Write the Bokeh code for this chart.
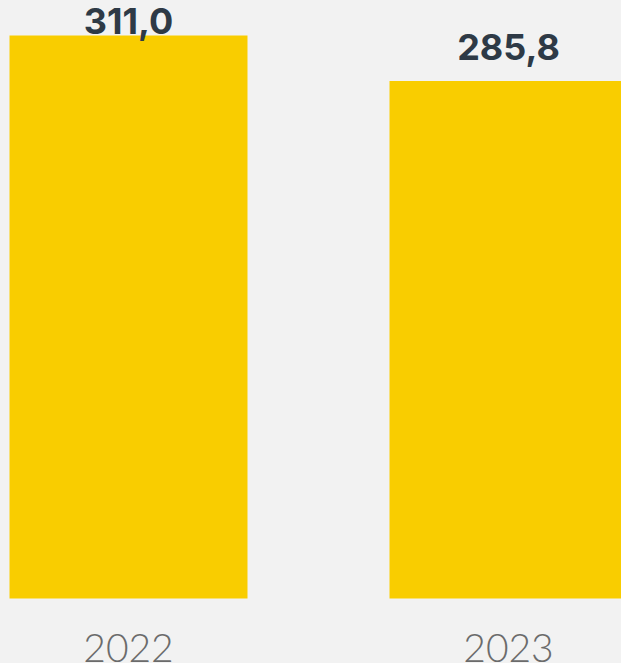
import numpy as np
from bokeh.plotting import figure
from bokeh.models import ColumnDataSource, Range1d, GlobalInlineStyleSheet
from bokeh.core.properties import value
from bokeh.embed import file_html
from bokeh.resources import INLINE

# ---- data ----
years = ["2022", "2023"]
values = [311.0, 285.8]
value_labels = ["311,0", "285,8"]

# ---- layout constants (pixels) ----
W, H = 621, 663
PX = 563 / 311.0          # pixels per unit on y
BASE_PX = 598             # pixel row of the zero line (from top)
XSTEP = 380               # pixels between bar centres
X0 = 128                  # pixel column of first bar centre
BAR_W = 238

y_start = -(H - BASE_PX) / PX
y_end = BASE_PX / PX
x_start = -X0 / XSTEP
x_end = x_start + W / XSTEP

idx = np.arange(len(years))
vals = np.array(values)
label_y = np.minimum(vals + 34 / PX, y_end - 20 / PX)

src = ColumnDataSource(dict(x=idx, top=vals, year=years, lab=value_labels,
                            ly=label_y, zero=np.zeros(len(years))))

p = figure(width=W, height=H, output_backend="svg", toolbar_location=None,
           x_range=Range1d(x_start, x_end), y_range=Range1d(y_start, y_end),
           min_border=0, border_fill_color="#f2f2f2", background_fill_color="#f2f2f2")
p.axis.visible = False
p.grid.visible = False
p.outline_line_color = None

p.vbar(x="x", top="top", bottom=0, width=BAR_W / XSTEP, source=src,
       fill_color="#f9cd00", line_color=None)

p.text(x="x", y="ly", text="lab", source=src, text_align="center",
       text_baseline="alphabetic", text_font=value("Inter"), text_font_style="bold",
       text_font_size="36px", text_color="#2e3a46")

p.text(x="x", y="zero", text="year", source=src, text_align="center",
       text_baseline="alphabetic", y_offset=49,
       text_font=value("Lato Light"), text_font_size="39px", text_color="#6b6b6b")

p.stylesheets = [GlobalInlineStyleSheet(css="body{background:#f2f2f2;}")]

open("out.html", "w").write(file_html(p, INLINE))
